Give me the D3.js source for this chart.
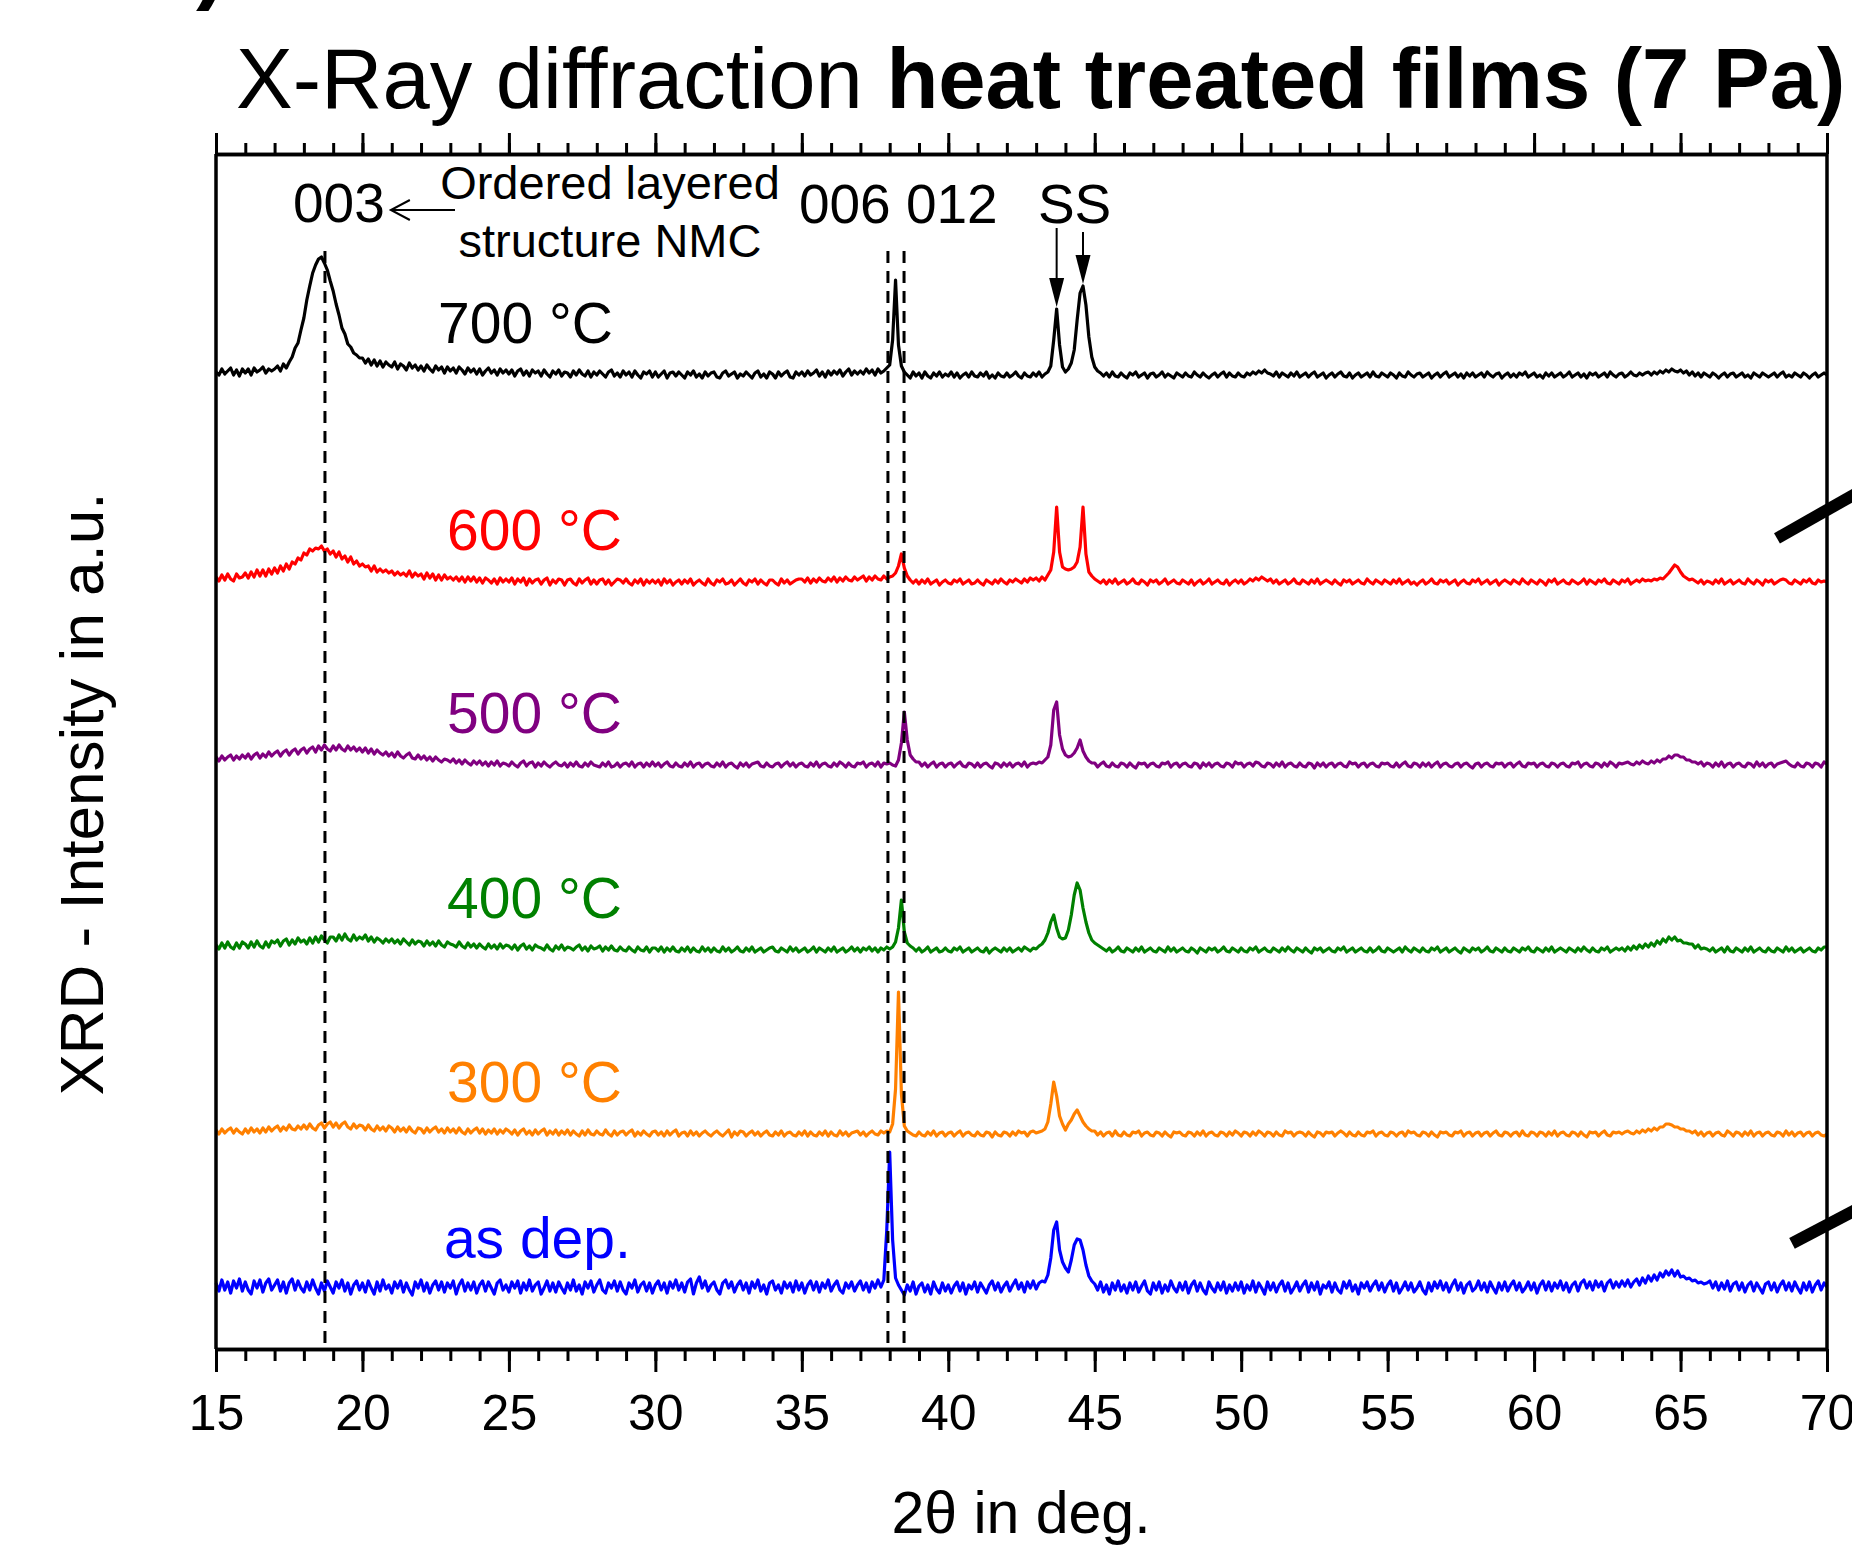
<!DOCTYPE html>
<html>
<head>
<meta charset="utf-8">
<script src="https://cdn.jsdelivr.net/npm/d3@7"></script>
<style>
  html, body { margin: 0; padding: 0; background: #fff; }
  svg { display: block; font-family: "Liberation Sans", Arial, Helvetica, sans-serif; }
</style>
</head>
<body>
<script>
// scan: 15..70 deg, 0.1 deg step (one value per step)
var thetaStart = 15, thetaStep = 0.1;
var xMajor = [15, 20, 25, 30, 35, 40, 45, 50, 55, 60, 65, 70];
var refLines = [18.72, 37.94, 38.49];   // 003, 006, 012
var ssPeaks = [43.7, 44.6];

var seriesNames = ['700 °C', '600 °C', '500 °C', '400 °C', '300 °C', 'as dep.'];
var seriesColors = ['#000000', '#ff0000', '#800080', '#008000', '#ff8000', '#0000ff'];
var seriesOffsets = [974, 767, 584, 399, 215, 59];
var labelTheta = [22.58, 22.89, 22.89, 22.89, 22.89, 22.78];

// intensities (a.u., above each offset)
var i700 = [3,0,6,1,4,7,0,5,-1,6, 2,6,0,7,3,5,8,2,6,4, 6,9,4,11,7,13,18,27,32,45, 57,75,89,102,110,116,118,112,105,94, 84,71,60,47,41,31,28,22,20,17,
 17,12,16,10,15,9,14,8,13,10, 8,13,6,11,9,5,12,7,10,5, 9,4,10,6,3,9,5,8,2,8, 4,7,2,8,5,1,7,3,6,1, 6,0,4,7,2,5,0,6,2,5,
 1,5,-1,4,6,0,4,-1,5,2, 4,-1,5,1,-2,4,1,5,-1,3, 2,-2,4,0,5,1,-1,4,-2,3, 0,4,1,-2,3,5,-1,2,-2,4, 0,3,-2,4,0,-3,3,1,4,-2,
 3,-2,1,4,-3,2,3,-1,3,0, -3,3,0,4,-2,1,-3,3,-1,2, 3,-2,-3,2,4,-1,1,3,-3,1, -1,3,0,-3,2,4,-2,1,-3,3, 1,-3,3,-1,2,4,-2,-3,3,0,
 3,-1,4,0,2,5,-1,3,-2,4, 0,4,1,5,-1,3,6,0,4,1, 4,1,6,2,5,0,6,2,4,7, 10,35,95,30,9,3,0,-3,3,-1, 2,-3,3,-1,-3,2,-1,3,-2,1,
 -1,3,-2,2,-3,0,2,-2,3,-1, -2,2,-1,3,-3,0,-3,2,-1,-2, 2,-2,0,3,-1,-3,2,-1,-2,2, -1,3,-2,1,3,9,35,66,30,8, 3,6,12,25,55,82,89,70,38,18,
 8,4,2,-1,2,-2,3,-1,-2,2, -1,-3,2,0,3,-2,0,2,-3,1, 2,-2,0,3,-2,1,-1,-3,2,0, -2,2,-1,-2,3,0,-2,2,-1,-3, 0,2,-2,1,3,-2,2,-1,-2,2,
 -1,-2,2,0,3,1,4,2,5,2, 1,-1,3,-2,2,0,-2,2,-1,3, -2,0,2,-2,1,3,-2,0,2,-3, 0,2,-2,1,3,-1,-2,2,-3,0, 2,-2,0,2,-2,3,-1,-2,2,0,
 -2,2,0,-3,2,-1,-2,3,0,-2, 1,2,-2,0,2,-3,0,2,-2,1, 3,-2,0,2,-2,1,-3,2,-1,2, -2,0,2,-2,3,0,-2,1,2,-3, 0,2,-2,1,-2,2,0,3,-2,0,
 2,-2,0,-3,2,-1,2,-2,0,2, -2,0,3,-2,0,2,-2,1,-3,2, 0,2,-2,0,2,-2,3,0,-2,1, 2,-2,0,3,0,-1,2,0,2,3, 0,3,1,4,2,5,3,6,4,3,
 5,2,4,0,3,-1,2,-2,2,0, -2,2,0,-3,0,2,-2,1,2,-2, 0,2,-2,0,-3,2,0,-2,2,0, -2,0,2,-2,1,3,-2,0,-2,2, 0,-2,2,0,-3,0,2,-2,0,2,
 0];

var i600 = [5,1,7,2,8,3,1,8,4,5, 9,4,10,5,12,6,12,6,13,8, 14,9,16,11,18,13,20,18,24,22, 29,27,33,31,34,33,36,31,33,28, 31,25,30,23,26,20,25,18,21,16,
 18,15,16,11,16,10,13,10,12,9, 11,7,10,7,9,6,11,5,9,6, 8,3,9,4,8,2,7,2,7,3, 5,2,5,1,5,0,5,1,5,0, 4,-1,4,2,-1,3,-2,4,0,3,
 0,4,-2,3,0,4,-3,3,-1,2, 3,-2,2,4,-3,2,-1,3,2,-3, 2,3,-1,-3,3,-1,2,4,-2,2, -2,2,3,-2,2,-3,0,3,2,-1, 3,-1,-3,2,-1,3,-3,2,-1,2,
 -1,2,-3,3,-1,2,-3,0,2,-2, 2,-1,3,-3,0,2,-1,-3,3,-1, -3,2,0,3,-2,-1,2,-3,0,3, -1,-3,2,0,3,-2,2,-1,-3,2, 2,-1,-3,3,-1,2,-2,0,2,3,
 3,0,4,-1,3,0,4,1,0,4, 1,5,0,4,1,5,2,1,5,2, 4,6,1,5,2,6,3,2,6,3, 5,6,9,16,28,14,6,2,-1,2, -2,2,-1,3,-2,0,2,-3,0,2,
 -1,-2,2,0,3,-2,0,2,-2,-1, 2,-1,-3,2,0,-2,2,-1,3,0, -2,2,0,3,1,-1,3,0,4,2, 4,1,5,2,7,12,30,75,30,15, 13,12,13,15,20,35,75,28,10,6,
 3,1,-1,2,-2,2,-1,3,-2,0, 2,-2,0,3,-1,-2,2,0,-3,2, 0,2,-2,0,3,-2,0,2,-1,-2, 2,0,-2,2,-3,0,2,-2,0,3, -2,0,2,-1,-2,2,-3,0,2,-1,
 2,-2,0,3,1,4,2,5,3,1, 3,-1,2,-2,0,2,-2,0,3,-1, -2,2,0,-2,2,-1,3,-2,0,2, 0,-2,2,-1,-3,2,0,2,-2,0, 2,-1,-2,3,0,-2,2,0,-2,2,
 0,-2,2,-1,3,-2,0,2,-2,0, -3,0,2,-2,0,3,-1,-2,2,0, 2,-2,0,2,-3,0,2,-1,-2,2, 0,3,-2,0,2,-2,0,2,-3,0, 2,0,-2,2,0,-2,3,0,-2,2,
 0,-2,2,0,-3,2,0,3,-2,0, 2,-1,-2,2,0,-2,0,3,-2,2, 0,-2,2,0,3,-1,-2,2,0,-2, 2,0,3,-2,0,2,0,3,1,2, 1,3,2,4,3,6,9,13,17,15,
 10,6,4,2,3,1,-1,2,-2,1, 0,-2,2,-1,3,-2,0,2,-2,0, 2,-1,-2,3,0,-2,2,0,-3,2, 0,2,-2,0,2,3,2,-1,-2,2, 0,-2,2,0,3,-1,-2,2,0,1,
 0];

var i500 = [8,4,9,5,8,10,5,9,6,10, 7,11,6,10,12,7,11,8,13,9, 12,14,9,13,15,10,14,16,11,15, 17,12,16,18,13,19,15,20,16,14, 19,15,20,16,14,19,15,18,14,17,
 13,17,12,16,11,15,12,10,13,9, 12,8,13,9,7,10,12,7,6,10, 6,9,5,8,4,8,5,3,6,5, 3,6,2,5,1,5,2,0,4,1, 4,0,3,-1,3,0,4,-1,2,1,
 -1,3,0,-2,2,4,-1,2,3,-2, 2,-1,3,0,-2,1,3,0,-1,2, -2,2,-1,3,-1,-2,2,-1,3,0, -1,-2,2,-1,3,-2,-1,2,-2,1, 2,-1,3,-2,1,2,-2,2,-1,3,
 -1,2,-2,1,3,-1,-2,2,-1,-2, 2,-1,3,-2,1,2,-2,1,2,-1, -2,2,-1,3,-2,1,2,-1,-3,2, -1,2,-2,1,2,3,-1,-2,2,-1, -2,1,2,-2,1,3,-1,2,-2,1,
 2,-1,-2,2,-1,3,-2,1,2,-1, -2,2,-1,3,1,-2,2,-1,-2,2, 1,3,-2,1,2,-1,3,-2,2,1, 2,0,-1,5,22,53,25,10,6,3, 3,-1,2,-2,1,3,-2,1,2,-2,
 1,2,-2,1,3,-1,-2,2,1,-2, 2,-2,1,2,-1,-3,2,1,-2,2, -1,2,-2,1,2,-1,3,-2,1,2, 1,3,2,5,8,20,55,63,30,16, 10,8,9,12,17,25,14,8,4,2,
 2,-2,1,3,-1,-2,2,-1,-2,2, 1,-2,2,-1,-3,2,1,2,-2,1, 2,-1,-2,2,1,3,-2,1,2,-2, 1,2,-1,-2,2,1,-3,2,-1,2, -2,1,2,-1,-2,2,1,-2,3,1,
 2,-2,1,2,-1,3,2,-1,-2,2, 1,-2,2,-1,3,-2,1,2,-1,-2, 2,-1,-2,2,1,-3,2,-1,2,-2, 1,2,-2,1,2,-1,-2,3,1,2, -2,1,2,-2,1,2,-1,-2,2,1,
 2,-1,-2,2,-2,1,3,-1,-2,2, 1,-2,2,-1,2,-2,1,3,-2,1, 2,-1,-2,1,2,-2,1,2,-1,-3, 1,2,-2,1,2,-1,-2,2,1,2, -2,1,2,-2,1,3,-1,-2,2,1,
 2,-2,1,2,-1,-2,2,1,-2,1, 2,-1,-2,2,1,3,-2,1,2,-1, -2,2,1,-2,2,-1,3,1,-2,2, 1,2,3,1,0,3,1,4,2,1, 4,2,5,3,6,6,9,7,10,10,
 8,8,5,5,3,3,1,3,-1,2, 1,-2,2,-1,3,-2,1,2,-2,1, 2,-1,-2,2,1,-2,3,-1,2,-2, 1,2,-2,1,2,3,4,1,-1,-2, 2,-1,-2,2,1,-2,2,1,-2,3,
 1];

var i400 = [5,1,7,2,8,3,1,7,2,8, 6,2,8,3,9,4,2,8,3,9, 7,10,4,9,11,5,10,6,12,8, 10,6,12,7,13,8,14,10,7,13, 13,9,15,10,16,11,9,15,10,13,
 11,15,9,13,8,12,10,7,11,8, 11,7,10,6,11,8,5,10,6,9, 8,4,9,5,8,4,9,5,3,8, 6,5,3,8,4,2,7,3,6,2, 6,3,1,6,2,5,1,6,2,5,
 4,1,5,0,4,6,1,4,0,5, 3,2,0,5,1,-1,4,1,5,0, 3,2,0,3,5,0,3,-1,4,1, 2,4,-1,3,0,4,0,-1,3,0, -1,3,0,-2,3,0,-1,3,-2,2,
 2,-1,3,-2,2,-1,3,-1,-2,2, -1,3,-2,2,-1,-2,3,-1,2,-2, 2,-1,-2,3,-1,2,-2,0,3,-1, -2,2,-1,3,-2,0,2,-2,0,2, 3,-1,-2,2,0,-2,3,-1,2,-2,
 0,2,-2,0,3,-2,2,0,-2,2, -1,3,-2,0,2,-2,0,3,-1,2, -2,2,0,3,-1,2,-2,2,0,3, 1,3,8,22,50,18,7,4,2,-1, 2,-2,0,3,-2,0,2,-2,-1,2,
 -1,-2,2,0,3,-2,0,2,-2,0, 2,-1,-2,2,-3,0,2,0,-2,2, -1,2,-2,0,2,-1,3,1,-1,2, 1,4,6,10,17,28,35,22,13,11, 12,20,35,55,67,60,42,28,17,10,
 7,5,3,1,-1,2,-2,0,3,-1, -2,2,0,-2,2,-1,3,-2,0,2, -1,-2,2,0,-2,3,-1,2,-2,0, 2,-1,-2,2,0,-3,2,0,-2,2, 0,2,-2,0,3,-1,-2,2,0,-2,
 2,-1,-2,2,0,3,-2,0,2,-1, -2,2,0,-2,2,-1,3,0,-2,2, 0,-2,2,-1,-3,2,0,2,-2,0, 2,-1,-2,2,0,3,-2,0,2,-2, 0,2,-1,-2,2,-2,0,3,-1,-2,
 2,0,-2,0,2,-2,3,0,-2,2, 0,-2,2,-1,-2,2,0,3,-2,0, 2,-2,0,2,-1,-3,2,0,-2,2, 0,2,-2,0,3,-1,-2,2,0,-2, 2,-1,-2,2,0,-2,2,0,3,-1,
 -2,2,0,-2,2,-1,3,-2,0,2, 0,-2,2,0,-2,2,-1,3,0,-2, 2,-1,-2,2,0,3,-2,0,2,0, 2,-1,3,0,4,1,5,2,6,3, 7,4,9,6,11,8,13,10,13,9,
 10,7,7,6,6,2,5,1,2,1, -1,2,-2,0,2,-2,3,-1,-2,2, 0,-2,2,-1,3,-2,0,2,-1,-2, 2,-1,-2,2,0,-2,3,-1,2,-2, 0,2,-2,0,2,-1,-2,2,0,3,
 3];

var i300 = [4,0,5,1,4,6,1,5,2,0, 5,1,6,2,5,1,6,2,7,3, 6,8,3,7,4,9,5,4,8,5, 9,5,10,6,4,9,11,6,10,12, 7,11,6,10,12,7,5,10,6,9,
 8,4,9,5,3,8,4,7,3,8, 6,2,7,3,6,2,7,3,1,6, 5,1,6,2,5,7,2,5,1,6, 2,5,1,6,2,0,5,1,4,6, 1,5,0,4,1,5,0,4,1,5,
 3,0,4,-1,3,5,0,3,-1,4, 0,3,5,-1,3,0,4,-1,3,0, 4,-1,3,0,-2,3,-1,4,0,-1, 3,0,-1,4,0,-2,3,-1,2,3, -1,2,4,-2,2,-1,3,0,-2,2,
 3,-1,2,-2,3,-1,2,4,-2,1, 2,-2,3,-1,2,-2,1,3,0,-2, 1,3,0,-2,1,4,-3,2,-1,3, 2,-2,1,3,-1,2,-2,1,3,-1, -2,2,-1,3,-2,1,2,-1,-2,2,
 -1,3,-2,2,-1,-2,2,-1,3,-2, 2,-1,-2,3,-1,2,-2,1,2,3, -1,2,-2,1,3,0,-1,3,1,3, 2,10,45,142,40,8,3,1,-1,-2, 2,-1,-2,2,-1,3,-2,1,2,-2,
 1,2,-2,1,3,-2,1,2,-1,-2, 2,-1,-2,2,1,-3,2,-1,-2,2, 1,-2,2,-1,3,1,2,-2,2,3, 1,2,3,5,12,30,52,38,18,10, 4,10,14,20,24,18,12,8,5,3,
 3,-1,2,-2,1,2,-2,3,-1,-2, 2,-1,-2,2,1,3,-2,1,2,-1, -2,2,1,-2,2,-1,-3,2,1,2, -1,-2,2,1,-2,2,-1,3,-2,1, 2,-1,-2,2,1,-2,2,-1,3,1,
 -2,2,1,-2,2,-1,3,1,-2,2, 1,-2,2,-1,-2,3,1,2,-2,1, 2,1,-2,2,-1,-3,2,1,-2,2, 1,2,-2,1,3,1,-2,2,-1,-2, 2,-1,-2,2,1,3,-2,1,2,-1,
 -2,2,1,-2,1,2,-2,3,1,2, -1,-2,2,1,-2,2,-1,-3,2,1, 2,-1,-2,2,1,3,-2,1,2,-2, 1,2,-2,1,2,-2,1,3,-1,-2, 2,1,-2,1,2,-2,3,-1,-2,2,
 1,-2,2,1,-2,2,-1,3,-2,1, 2,-1,-2,2,1,-2,2,-1,-3,2, 1,2,-2,1,3,-1,-2,2,1,2, 0,2,3,1,0,3,1,4,2,5, 3,6,4,7,7,10,10,9,7,7,
 5,5,3,3,1,3,-1,2,-2,1, 2,-2,1,2,-1,-2,3,1,-2,2, 1,-2,2,-1,3,-2,1,2,-2,1, 2,-1,-2,2,1,-2,3,-1,2,-2, 1,2,-2,1,2,-2,1,2,-1,-2,
 0];

var iAsDep = [7,-1,10,0,8,-3,9,2,11,-1, 8,0,-4,9,2,10,-2,7,11,0, 5,10,-1,8,-3,7,11,0,9,2, -2,8,0,10,2,-4,7,-1,9,3, -3,8,2,10,-1,7,-4,5,9,0,
 7,-2,9,2,-4,8,-1,10,1,5, -3,8,2,9,-2,7,0,-5,8,2, 10,-1,7,-3,5,9,0,8,-2,7, 2,9,-4,5,10,-1,7,0,8,-3, 5,9,-1,8,2,-4,7,10,0,5,
 -2,8,2,9,-3,7,0,10,-1,5, 8,-4,2,9,-1,7,-2,8,2,-3, 7,0,10,-1,5,-4,8,2,9,-2, 5,10,0,-3,7,2,9,-1,8,0, -4,7,2,10,-2,5,8,-1,7,-3,
 5,9,0,7,-3,8,2,10,0,7, -2,8,11,-4,7,13,2,9,-1,5, 8,0,-4,7,10,2,8,-2,5,9, 0,7,-3,8,2,10,-1,5,-4,7, 9,0,5,-3,8,2,7,-2,9,0,
 7,-3,5,9,0,8,-2,7,2,10, -1,5,9,0,-3,7,2,8,-1,5, 9,0,7,-2,8,2,10,3,10,60, 138,50,12,5,0,-5,5,-1,8,-4, 4,7,-2,5,-4,8,1,-3,7,-1,
 5,-3,4,8,-1,7,-4,5,1,8, -2,7,2,-3,5,9,0,7,-2,4, 8,-1,5,10,1,7,-2,8,2,9, 1,7,9,8,15,32,60,68,40,28, 22,18,30,45,51,50,40,25,14,9,
 6,0,8,-2,5,-4,7,0,9,-1, 5,-3,7,0,8,-2,4,9,-1,-4, 7,0,8,-3,5,-1,9,2,-2,7, 0,8,-3,5,9,-1,7,0,-4,8, 2,-2,7,0,8,-3,5,-1,7,0,
 8,-3,5,0,9,-2,7,2,-4,8, 0,7,-2,5,9,-1,7,-3,2,8, -1,5,9,-2,7,0,8,-4,5,2, 8,-2,7,0,-3,8,2,9,-1,5, -4,7,2,8,-1,5,9,0,7,-2,
 5,9,-1,7,-3,2,8,0,7,-2, 2,8,0,-4,7,-1,8,2,9,0, 7,-2,5,10,0,7,-3,5,8,-1, 2,9,0,7,-2,8,2,-3,7,0, 8,-1,5,9,0,7,-2,2,8,0,
 7,-3,5,9,0,8,-1,7,2,9, 0,7,-2,5,8,-1,7,10,2,8, 0,9,3,8,-1,7,10,2,8,3, 9,4,10,3,8,11,5,12,7,14, 9,15,10,17,13,19,15,20,14,19,
 13,14,11,12,9,10,7,8,6,7, 9,2,8,0,7,1,9,-1,6,8, 0,7,-2,5,8,-1,7,2,-3,6, 8,0,7,-2,5,9,0,7,-1,8, 2,-3,7,0,8,-2,5,9,0,7,
 3];

var seriesValues = [i700, i600, i500, i400, i300, iAsDep];

(function() {
  var W = 1852, H = 1549;
  var x = d3.scaleLinear().domain([15, 70]).range([216, 1827]);
  var y = d3.scaleLinear().domain([0, 1195]).range([1349, 154]);
  var theta = function(i) { return thetaStart + i * thetaStep; };

  var svg = d3.select('body').append('svg').attr('width', W).attr('height', H);
  svg.append('rect').attr('width', W).attr('height', H).attr('fill', '#fff');

  // panel letter, mostly outside the picture
  svg.append('text').attr('x', 226).attr('y', -8).attr('text-anchor', 'end')
    .style('font-size', '90px').style('font-weight', 'bold').text('b)');

  svg.append('text').attr('x', 236).attr('y', 108).style('font-size', '85px').style('white-space', 'pre')
    .call(function(t) {
      t.append('tspan').text('X-Ray diffraction ');
      t.append('tspan').style('font-weight', 'bold').text('heat treated films (7 Pa)');
    });

  // traces
  seriesValues.forEach(function(vals, k) {
    var off = seriesOffsets[k];
    var line = d3.line().x(function(d, i) { return x(theta(i)); }).y(function(d) { return y(off + d); });
    svg.append('path').datum(vals).attr('d', line)
      .attr('fill', 'none').attr('stroke', seriesColors[k]).attr('stroke-width', 3.2)
      .attr('stroke-linejoin', 'round');
  });

  // reflection positions
  svg.selectAll('line.ref').data(refLines).enter().append('line').attr('class', 'ref')
    .attr('x1', x).attr('x2', x).attr('y1', y(1098)).attr('y2', y(0))
    .attr('stroke', '#000').attr('stroke-width', 3).attr('stroke-dasharray', '12,8');

  // axes
  var styleAxis = function(g) {
    g.attr('font-size', null).attr('font-family', null);
    g.select('.domain').attr('stroke-width', 3.5);
    g.selectAll('.tick line').attr('stroke-width', 3);
  };
  svg.append('g').attr('transform', 'translate(0,1349)')
    .call(d3.axisBottom(x).tickValues(d3.range(15, 71, 1)).tickSize(12).tickSizeOuter(0).tickFormat(''))
    .call(styleAxis);
  svg.append('g').attr('transform', 'translate(0,1349)')
    .call(d3.axisBottom(x).tickValues(xMajor).tickSize(23).tickSizeOuter(0).tickPadding(22).tickFormat(d3.format('d')))
    .call(styleAxis)
    .selectAll('text').style('font-size', '50px').attr('fill', '#000');
  svg.append('g').attr('transform', 'translate(0,154)')
    .call(d3.axisTop(x).tickValues(d3.range(15, 71, 1)).tickSize(11).tickSizeOuter(0).tickFormat(''))
    .call(styleAxis);
  svg.append('g').attr('transform', 'translate(0,154)')
    .call(d3.axisTop(x).tickValues(xMajor).tickSize(21).tickSizeOuter(0).tickFormat(''))
    .call(styleAxis);
  [15, 70].forEach(function(v) {
    svg.append('line').attr('x1', x(v)).attr('x2', x(v)).attr('y1', y(1195)).attr('y2', y(0))
      .attr('stroke', '#000').attr('stroke-width', 3.5);
  });

  // axis break marks on the right
  [[839, 50, 0.568], [124, 35, 0.525]].forEach(function(b) {
    var cx = x(70), cy = y(b[0]);
    svg.append('line').attr('x1', cx - b[1]).attr('y1', cy + b[1] * b[2])
      .attr('x2', cx + 40).attr('y2', cy - 40 * b[2])
      .attr('stroke', '#000').attr('stroke-width', 12);
  });

  // axis titles
  svg.append('text').attr('x', 1021).attr('y', 1533).attr('text-anchor', 'middle')
    .style('font-size', '59px').text('2θ in deg.');
  svg.append('text').attr('transform', 'translate(103,794) rotate(-90)').attr('text-anchor', 'middle')
    .style('font-size', '62px').text('XRD - Intensity in a.u.');

  // series labels
  svg.selectAll('text.lab').data(seriesNames).enter().append('text').attr('class', 'lab')
    .attr('x', function(d, k) { return x(labelTheta[k]); })
    .attr('y', function(d, k) { return y(seriesOffsets[k] + 32); })
    .attr('fill', function(d, k) { return seriesColors[k]; })
    .style('font-size', '57px').text(function(d) { return d; });

  // reflection labels
  var ann = svg.append('g').style('font-size', '55px');
  ann.append('text').attr('x', x(17.63)).attr('y', y(1127)).text('003');
  ann.append('text').attr('x', x(34.9)).attr('y', y(1126)).text('006 012');
  ann.append('text').attr('x', x(43.06)).attr('y', y(1126)).text('SS');
  var nmc = svg.append('g').style('font-size', '47px').attr('text-anchor', 'middle');
  nmc.append('text').attr('x', x(28.45)).attr('y', y(1150)).text('Ordered layered');
  nmc.append('text').attr('x', x(28.45)).attr('y', y(1092)).text('structure NMC');

  // open arrow to 003
  var ax0 = x(20.97), ax1 = x(23.16), ay = y(1139);
  svg.append('path')
    .attr('d', 'M' + ax1 + ',' + ay + 'H' + ax0 + 'M' + (ax0 + 19) + ',' + (ay - 10) + 'L' + ax0 + ',' + ay + 'L' + (ax0 + 19) + ',' + (ay + 10))
    .attr('fill', 'none').attr('stroke', '#000').attr('stroke-width', 2);

  // filled arrows to the substrate peaks of the 700 °C pattern
  ssPeaks.forEach(function(p, j) {
    var idx = Math.round((p - thetaStart) / thetaStep);
    var px = x(p), tip = y(seriesOffsets[0] + i700[idx]) - 2, top = y(1121 - 4 * j);
    svg.append('line').attr('x1', px).attr('x2', px).attr('y1', top).attr('y2', tip - 28)
      .attr('stroke', '#000').attr('stroke-width', 2);
    svg.append('path').attr('d', 'M' + px + ',' + tip + 'L' + (px - 7.5) + ',' + (tip - 29) + 'L' + (px + 7.5) + ',' + (tip - 29) + 'Z')
      .attr('fill', '#000');
  });
}).call(this);
</script>
</body>
</html>
